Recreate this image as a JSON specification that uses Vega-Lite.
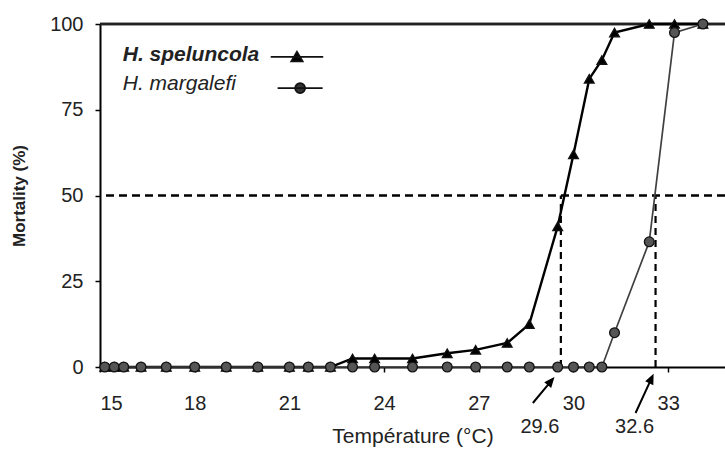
{
  "$schema": "https://vega.github.io/schema/vega-lite/v6.json",
  "width": 625,
  "height": 343,
  "autosize": {"type": "none"},
  "padding": {"left": 100, "top": 24, "right": 0, "bottom": 86},
  "background": "white",
  "config": {
    "view": {"stroke": null},
    "font": "Liberation Sans",
    "axis": {
      "grid": false,
      "domainColor": "#000",
      "domainWidth": 2,
      "tickColor": "#000",
      "tickWidth": 1.5,
      "tickSize": 5,
      "labelFont": "Liberation Sans",
      "labelFontSize": 20,
      "labelColor": "#222",
      "titleFont": "Liberation Sans",
      "titleColor": "#222"
    }
  },
  "datasets": {
    "mort": [
      {"species": "H. speluncola", "temp": 15.15, "mortality": 0},
      {"species": "H. speluncola", "temp": 15.45, "mortality": 0},
      {"species": "H. speluncola", "temp": 15.75, "mortality": 0},
      {"species": "H. speluncola", "temp": 16.3, "mortality": 0},
      {"species": "H. speluncola", "temp": 17.1, "mortality": 0},
      {"species": "H. speluncola", "temp": 18.0, "mortality": 0},
      {"species": "H. speluncola", "temp": 19.0, "mortality": 0},
      {"species": "H. speluncola", "temp": 20.0, "mortality": 0},
      {"species": "H. speluncola", "temp": 21.0, "mortality": 0},
      {"species": "H. speluncola", "temp": 21.6, "mortality": 0},
      {"species": "H. speluncola", "temp": 22.3, "mortality": 0},
      {"species": "H. speluncola", "temp": 23.0, "mortality": 2.5},
      {"species": "H. speluncola", "temp": 23.7, "mortality": 2.5},
      {"species": "H. speluncola", "temp": 24.9, "mortality": 2.5},
      {"species": "H. speluncola", "temp": 26.0, "mortality": 4},
      {"species": "H. speluncola", "temp": 26.9, "mortality": 5},
      {"species": "H. speluncola", "temp": 27.9, "mortality": 7},
      {"species": "H. speluncola", "temp": 28.6, "mortality": 12.5},
      {"species": "H. speluncola", "temp": 29.5, "mortality": 41},
      {"species": "H. speluncola", "temp": 30.0, "mortality": 62},
      {"species": "H. speluncola", "temp": 30.5, "mortality": 84},
      {"species": "H. speluncola", "temp": 30.9, "mortality": 89.5},
      {"species": "H. speluncola", "temp": 31.3, "mortality": 97.5},
      {"species": "H. speluncola", "temp": 32.4, "mortality": 100},
      {"species": "H. speluncola", "temp": 33.2, "mortality": 100},
      {"species": "H. speluncola", "temp": 34.1, "mortality": 100},
      {"species": "H. margalefi", "temp": 15.15, "mortality": 0},
      {"species": "H. margalefi", "temp": 15.45, "mortality": 0},
      {"species": "H. margalefi", "temp": 15.75, "mortality": 0},
      {"species": "H. margalefi", "temp": 16.3, "mortality": 0},
      {"species": "H. margalefi", "temp": 17.1, "mortality": 0},
      {"species": "H. margalefi", "temp": 18.0, "mortality": 0},
      {"species": "H. margalefi", "temp": 19.0, "mortality": 0},
      {"species": "H. margalefi", "temp": 20.0, "mortality": 0},
      {"species": "H. margalefi", "temp": 21.0, "mortality": 0},
      {"species": "H. margalefi", "temp": 21.6, "mortality": 0},
      {"species": "H. margalefi", "temp": 22.3, "mortality": 0},
      {"species": "H. margalefi", "temp": 23.0, "mortality": 0},
      {"species": "H. margalefi", "temp": 23.7, "mortality": 0},
      {"species": "H. margalefi", "temp": 24.9, "mortality": 0},
      {"species": "H. margalefi", "temp": 26.0, "mortality": 0},
      {"species": "H. margalefi", "temp": 26.9, "mortality": 0},
      {"species": "H. margalefi", "temp": 27.9, "mortality": 0},
      {"species": "H. margalefi", "temp": 28.6, "mortality": 0},
      {"species": "H. margalefi", "temp": 29.5, "mortality": 0},
      {"species": "H. margalefi", "temp": 30.0, "mortality": 0},
      {"species": "H. margalefi", "temp": 30.5, "mortality": 0},
      {"species": "H. margalefi", "temp": 30.9, "mortality": 0},
      {"species": "H. margalefi", "temp": 31.3, "mortality": 10},
      {"species": "H. margalefi", "temp": 32.4, "mortality": 36.5},
      {"species": "H. margalefi", "temp": 33.2, "mortality": 97.5},
      {"species": "H. margalefi", "temp": 34.1, "mortality": 100}
    ],
    "lt50": [
      {"label": "29.6", "value": 29.6},
      {"label": "32.6", "value": 32.6}
    ]
  },
  "layer": [
    {
      "data": {"name": "lt50"},
      "mark": {"type": "rule", "strokeDash": [8, 5], "strokeWidth": 2.2, "color": "#000"},
      "encoding": {"y": {"datum": 50, "type": "quantitative"}}
    },
    {
      "data": {"name": "lt50"},
      "mark": {"type": "rule", "strokeWidth": 2.5, "color": "#222"},
      "encoding": {"y": {"datum": 100, "type": "quantitative"}}
    },
    {
      "data": {"name": "lt50"},
      "mark": {"type": "rule", "strokeDash": [7, 5], "strokeWidth": 2.2, "color": "#000"},
      "encoding": {
        "x": {"field": "value", "type": "quantitative"},
        "y": {"datum": 0, "type": "quantitative"},
        "y2": {"datum": 50}
      }
    },
    {
      "data": {"name": "mort"},
      "mark": {"type": "line"},
      "encoding": {
        "x": {
          "field": "temp", "type": "quantitative",
          "scale": {"domain": [15, 34.8], "nice": false, "zero": false},
          "axis": {
            "values": [15, 18, 21, 24, 27, 30, 33],
            "title": "Température (°C)",
            "titleFontSize": 21,
            "titleFontWeight": "normal",
            "labelPadding": 21,
            "titlePadding": 12
          }
        },
        "y": {
          "field": "mortality", "type": "quantitative",
          "scale": {"domain": [0, 100], "nice": false},
          "axis": {
            "values": [0, 25, 50, 75, 100],
            "title": "Mortality (%)",
            "titleFontSize": 17,
            "titleFontWeight": "bold",
            "labelPadding": 12,
            "titlePadding": 21
          }
        },
        "color": {
          "field": "species", "type": "nominal",
          "scale": {"domain": ["H. speluncola", "H. margalefi"], "range": ["#000000", "#404040"]},
          "legend": null
        },
        "strokeWidth": {
          "field": "species", "type": "nominal",
          "scale": {"domain": ["H. speluncola", "H. margalefi"], "range": [2.4, 1.7]},
          "legend": null
        }
      }
    },
    {
      "data": {"name": "mort"},
      "mark": {"type": "point", "filled": true, "stroke": "#111", "strokeWidth": 1.3, "opacity": 1, "size": 95},
      "encoding": {
        "x": {"field": "temp", "type": "quantitative"},
        "y": {"field": "mortality", "type": "quantitative"},
        "fill": {
          "field": "species", "type": "nominal",
          "scale": {"domain": ["H. speluncola", "H. margalefi"], "range": ["#000000", "#555555"]},
          "legend": null
        },
        "shape": {
          "field": "species", "type": "nominal",
          "scale": {"domain": ["H. speluncola", "H. margalefi"], "range": ["triangle-up", "circle"]},
          "legend": null
        }
      }
    },
    {
      "data": {"values": [{"species": "H. speluncola"}]},
      "mark": {"type": "text", "font": "Liberation Sans", "fontSize": 21, "fontStyle": "italic", "fontWeight": "bold", "color": "#222", "align": "left", "baseline": "middle"},
      "encoding": {
        "x": {"datum": 15.72, "type": "quantitative"},
        "y": {"datum": 91.0, "type": "quantitative"},
        "text": {"field": "species"}
      }
    },
    {
      "data": {"values": [{"species": "H. margalefi"}]},
      "mark": {"type": "text", "font": "Liberation Sans", "fontSize": 21, "fontStyle": "italic", "fontWeight": "normal", "color": "#222", "align": "left", "baseline": "middle"},
      "encoding": {
        "x": {"datum": 15.72, "type": "quantitative"},
        "y": {"datum": 82.6, "type": "quantitative"},
        "text": {"field": "species"}
      }
    },
    {
      "data": {"values": [{"species": "H. speluncola"}]},
      "mark": {"type": "point", "filled": true, "fill": "#000", "stroke": "#111", "strokeWidth": 1.7, "opacity": 1, "size": 625,
        "shape": "M-2.1,0H2.1M0,-0.42L0.46,0.36L-0.46,0.36Z"},
      "encoding": {
        "x": {"datum": 21.24, "type": "quantitative"},
        "y": {"datum": 90.4, "type": "quantitative"}
      }
    },
    {
      "data": {"values": [{"species": "H. margalefi"}]},
      "mark": {"type": "point", "filled": true, "fill": "#333", "stroke": "#111", "strokeWidth": 1.7, "opacity": 1, "size": 625,
        "shape": "M-1.8,0H1.8M0.4,0A0.4,0.4 0 1,1 -0.4,0A0.4,0.4 0 1,1 0.4,0Z"},
      "encoding": {
        "x": {"datum": 21.34, "type": "quantitative"},
        "y": {"datum": 81.3, "type": "quantitative"}
      }
    },
    {
      "data": {"name": "lt50"},
      "transform": [{"filter": "datum.label === '29.6'"}],
      "mark": {"type": "point", "filled": true, "fill": "#000", "stroke": "#000", "strokeWidth": 2, "opacity": 1, "size": 900,
        "shape": "M-1.867,2.4L-0.833,1.16M-0.533,0.8L-0.987,1.033L-0.68,1.287Z"},
      "encoding": {
        "x": {"field": "value", "type": "quantitative"},
        "y": {"datum": 0, "type": "quantitative"}
      }
    },
    {
      "data": {"name": "lt50"},
      "transform": [{"filter": "datum.label === '32.6'"}],
      "mark": {"type": "point", "filled": true, "fill": "#000", "stroke": "#000", "strokeWidth": 2, "opacity": 1, "size": 900,
        "shape": "M-1.333,3.067L-0.393,1.027M-0.2,0.6L-0.573,0.94L-0.213,1.113Z"},
      "encoding": {
        "x": {"field": "value", "type": "quantitative"},
        "y": {"datum": 0, "type": "quantitative"}
      }
    },
    {
      "data": {"name": "lt50"},
      "mark": {"type": "text", "font": "Liberation Sans", "fontSize": 20, "color": "#222", "align": "center", "baseline": "middle", "dx": -21, "dy": 60},
      "encoding": {
        "x": {"field": "value", "type": "quantitative"},
        "y": {"datum": 0, "type": "quantitative"},
        "text": {"field": "label"}
      }
    }
  ]
}
